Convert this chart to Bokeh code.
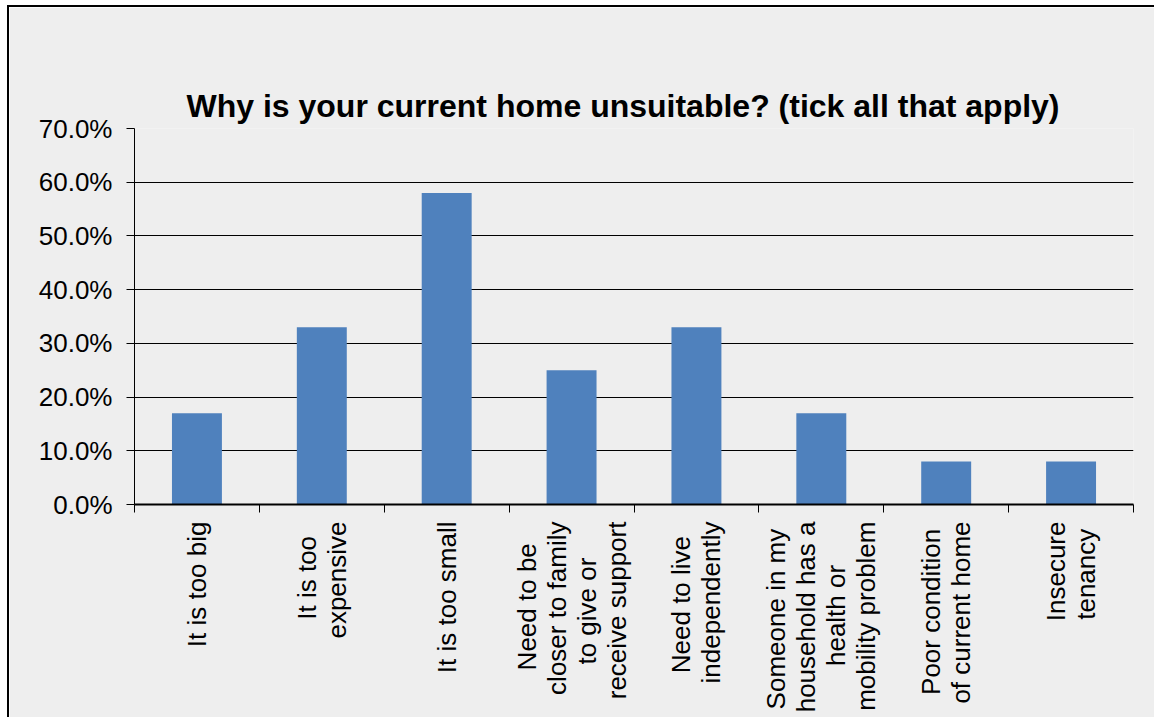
import math
from bokeh.plotting import figure
from bokeh.models import FixedTicker, NumeralTickFormatter, ColumnDataSource, Range1d, Title
from bokeh.embed import file_html
from bokeh.resources import INLINE

# ---- data ----
categories = [
    "It is too big",
    "It is too\nexpensive",
    "It is too small",
    "Need to be\ncloser to family\nto give or\nreceive support",
    "Need to live\nindependently",
    "Someone in my\nhousehold has a\nhealth or\nmobility problem",
    "Poor condition\nof current home",
    "Insecure\ntenancy",
]
values = [0.17, 0.33, 0.58, 0.25, 0.33, 0.17, 0.08, 0.08]
y_ticks = [0.0, 0.1, 0.2, 0.3, 0.4, 0.5, 0.6, 0.7]
title_text = "Why is your current home unsuitable? (tick all that apply)"

n = len(categories)
centers = [i + 0.5 for i in range(n)]
boundaries = [float(i) for i in range(n + 1)]

FONT = "Liberation Sans"
BG = "#EEEEEE"

# approximate Arial / Liberation Sans advance widths (1/1000 em) used to centre
# the lines of each rotated multi-line label
W = {" ": 278, "a": 556, "b": 556, "c": 500, "d": 556, "e": 556, "f": 278, "g": 556,
     "h": 556, "i": 222, "j": 222, "k": 500, "l": 222, "m": 833, "n": 556, "o": 556,
     "p": 556, "q": 556, "r": 333, "s": 500, "t": 278, "u": 556, "v": 500, "w": 722,
     "x": 500, "y": 500, "z": 500, "I": 278, "N": 722, "S": 667, "P": 667}
NBSP = "\u00a0"


def centred(label):
    lines = label.split("\n")
    widths = [sum(W.get(ch, 556) for ch in ln) for ln in lines]
    mw = max(widths)
    out = []
    for ln, w in zip(lines, widths):
        k = int(round((mw - w) / 2 / 278))
        out.append(ln + NBSP * k)
    return "\n".join(out)


p = figure(
    frame_width=999, frame_height=376,
    min_border_left=125, min_border_right=21, min_border_top=121, min_border_bottom=213,
    x_range=Range1d(0, n), y_range=Range1d(0, 0.7),
    output_backend="svg", toolbar_location=None,
    background_fill_color=BG, border_fill_color=BG,
    title=None,
)
p.styles = {"border-top": "2px solid #000", "border-left": "2px solid #000",
            "margin-left": "7px", "margin-top": "5px"}
p.outline_line_color = None

title = Title(text=title_text, text_font=FONT, text_font_size="32px",
              text_font_style="bold", text_color="#000000",
              align="left", offset=52, standoff=10)
p.add_layout(title, "above")

# invisible spacer panel between the frame and the title
spacer = Title(text=".", text_font_size="10px", text_alpha=0.0, standoff=40)
p.add_layout(spacer, "above")

src = ColumnDataSource(dict(x=centers, top=values))
p.vbar(x="x", top="top", width=0.4, bottom=0, source=src,
       fill_color="#4F81BD", line_color=None)

# y axis
yax = p.yaxis[0]
yax.ticker = FixedTicker(ticks=y_ticks)
yax.formatter = NumeralTickFormatter(format="0.0%")
yax.major_label_text_font = FONT
yax.major_label_text_font_size = "26px"
yax.major_label_text_color = "#000000"
yax.major_tick_out = 8
yax.major_tick_in = 0
yax.minor_tick_line_color = None
yax.axis_line_color = "#000000"
yax.major_tick_line_color = "#000000"
yax.major_label_standoff = 14

# x axis
xax = p.xaxis[0]
xax.ticker = FixedTicker(ticks=centers, minor_ticks=boundaries)
xax.major_label_overrides = {c: centred(lab) for c, lab in zip(centers, categories)}
xax.major_label_orientation = math.pi / 2
xax.major_label_text_font = FONT
xax.major_label_text_font_size = "26px"
xax.major_label_text_color = "#000000"
xax.major_label_text_line_height = 1.0
xax.major_tick_out = 0
xax.major_tick_in = 0
xax.major_tick_line_color = None
xax.minor_tick_out = 8
xax.minor_tick_in = 0
xax.minor_tick_line_color = "#000000"
xax.axis_line_color = "#000000"
xax.axis_line_width = 2
xax.major_label_standoff = 9

p.xgrid.grid_line_color = None
p.ygrid.ticker = FixedTicker(ticks=y_ticks)
p.ygrid.grid_line_color = "#000000"
p.ygrid.grid_line_width = 1

open("out.html", "w").write(file_html(p, INLINE))
